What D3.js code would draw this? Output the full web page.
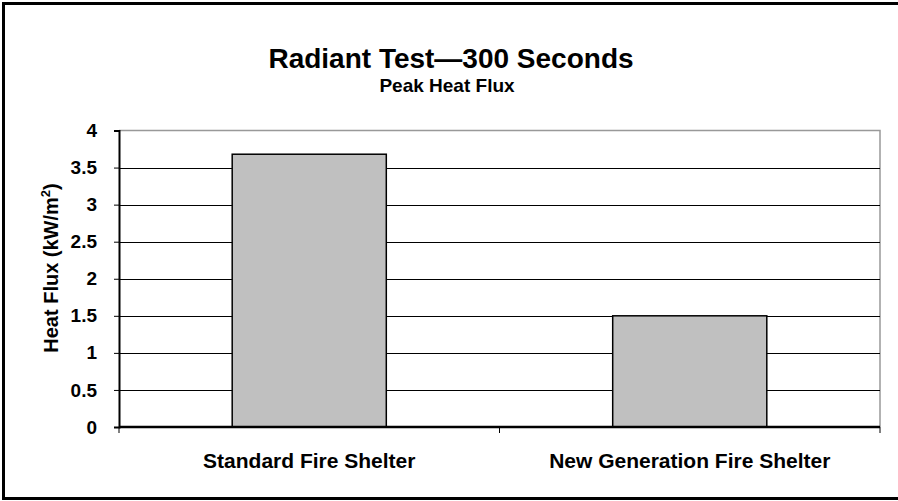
<!DOCTYPE html>
<html>
<head>
<meta charset="utf-8">
<script src="https://cdn.jsdelivr.net/npm/d3@7"></script>
<style>
  html, body { margin: 0; padding: 0; background: #fff; }
  svg { display: block; }
  text { font-family: "Liberation Sans", Arial, Helvetica, sans-serif; font-weight: bold; fill: #000; }
</style>
</head>
<body>
<script>
const categories = ["Standard Fire Shelter", "New Generation Fire Shelter"];
const values = [3.68, 1.5];
const yTicks = [0, 0.5, 1, 1.5, 2, 2.5, 3, 3.5, 4];
const yTickLabels = ["0", "0.5", "1", "1.5", "2", "2.5", "3", "3.5", "4"];
const title = "Radiant Test\u2014300 Seconds";
const subtitle = "Peak Heat Flux";

const W = 898, H = 501;
const m = { left: 119, right: 880, top: 130.5, bottom: 427 };

const svg = d3.select("body").append("svg").attr("width", W).attr("height", H);

// outer frame (left, top, bottom visible)
svg.append("path")
  .attr("d", `M${W + 5},3.5 H3.5 V498.5 H${W + 5}`)
  .attr("fill", "none").attr("stroke", "#000").attr("stroke-width", 3);

const x = d3.scaleBand().domain(categories).range([m.left, m.right]).paddingInner(0.595).paddingOuter(0.2975);
const y = d3.scaleLinear().domain([0, 4]).range([m.bottom, m.top]);

// plot area border (top/right gray)
svg.append("path")
  .attr("d", `M${m.left},${m.top} H${m.right} V${m.bottom}`)
  .attr("fill", "none").attr("stroke", "#999").attr("stroke-width", 1.5);

// gridlines
svg.append("g").selectAll("line").data(yTicks.filter(t => t > 0 && t < 4)).join("line")
  .attr("x1", m.left).attr("x2", m.right)
  .attr("y1", d => Math.round(y(d)) + 0.5).attr("y2", d => Math.round(y(d)) + 0.5)
  .attr("stroke", "#000").attr("stroke-width", 1);

// bars
svg.append("g").selectAll("rect").data(categories).join("rect")
  .attr("x", d => x(d))
  .attr("y", (d, i) => y(values[i]))
  .attr("width", x.bandwidth())
  .attr("height", (d, i) => y(0) - y(values[i]))
  .attr("fill", "#c0c0c0").attr("stroke", "#000").attr("stroke-width", 1.5);

// y axis
const yAxis = d3.axisLeft(y).tickValues(yTicks).tickFormat((d, i) => yTickLabels[i]).tickSize(5).tickPadding(17);
const gy = svg.append("g").attr("transform", `translate(${m.left},0)`).call(yAxis);
gy.select(".domain").attr("stroke", "#000").attr("stroke-width", 2);
gy.selectAll(".tick line").attr("stroke", "#000").attr("stroke-width", 1);
gy.selectAll(".tick text").style("font-size", "19px").style("font-family", "'Liberation Sans', Arial, sans-serif").style("font-weight", "bold").attr("fill", "#000");

// x axis
const xEdge = d3.scaleLinear().domain([0, categories.length]).range([m.left, m.right]);
const gx = svg.append("g").attr("transform", `translate(0,${m.bottom})`);
gx.append("line").attr("x1", m.left).attr("x2", m.right).attr("y1", 0).attr("y2", 0)
  .attr("stroke", "#000").attr("stroke-width", 2.5);
gx.selectAll("line.tk").data(d3.range(categories.length + 1)).join("line").attr("class", "tk")
  .attr("x1", d => xEdge(d)).attr("x2", d => xEdge(d)).attr("y1", 0).attr("y2", 6)
  .attr("stroke", "#000").attr("stroke-width", 1);
gx.selectAll("text").data(categories).join("text")
  .attr("x", d => x(d) + x.bandwidth() / 2).attr("y", 41)
  .attr("text-anchor", "middle").style("font-size", "21px").text(d => d);

// titles
svg.append("text").attr("x", 451).attr("y", 68).attr("text-anchor", "middle")
  .style("font-size", "28px").text(title);
svg.append("text").attr("x", 447).attr("y", 92).attr("text-anchor", "middle")
  .style("font-size", "19px").text(subtitle);

// y label
const yl = svg.append("text").attr("transform", `translate(58,268) rotate(-90)`)
  .attr("text-anchor", "middle").style("font-size", "20px");
yl.append("tspan").text("Heat Flux (kW/m");
yl.append("tspan").attr("dy", -8).style("font-size", "13px").text("2");
yl.append("tspan").attr("dy", 8).text(")");
</script>
</body>
</html>
